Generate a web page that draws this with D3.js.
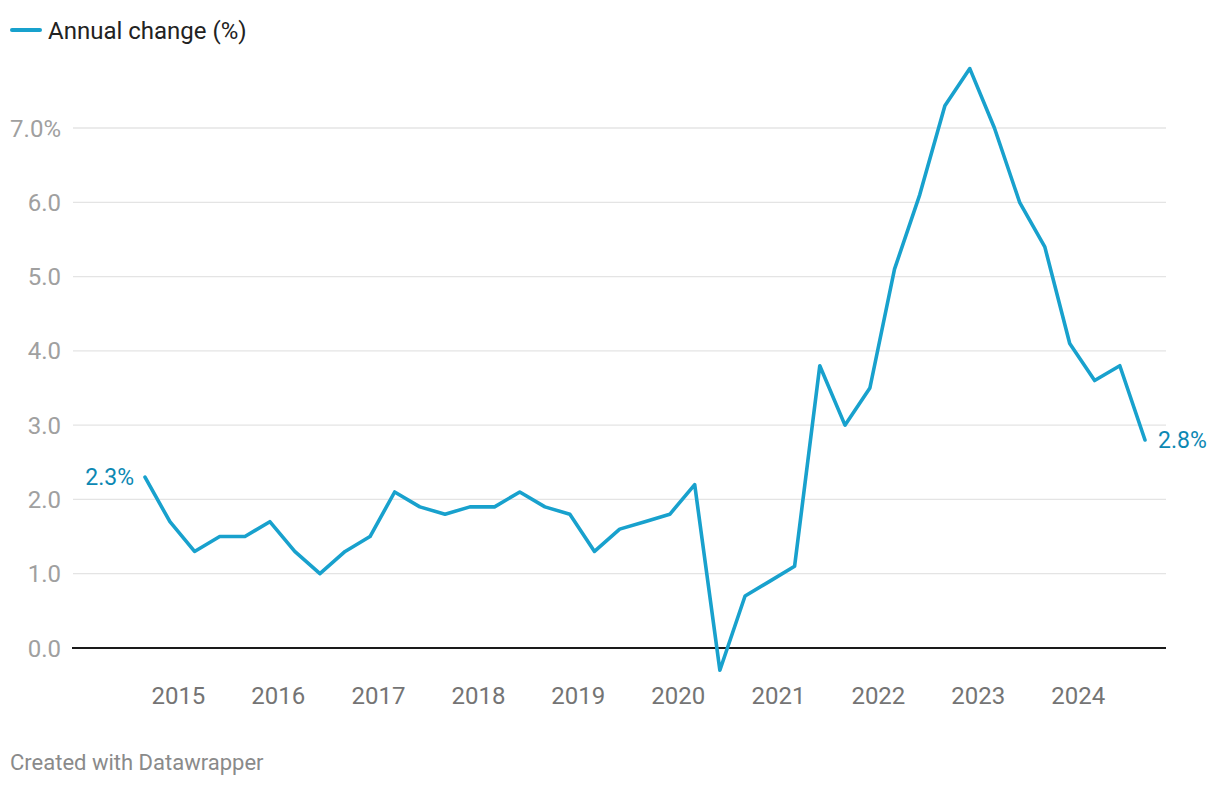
<!DOCTYPE html>
<html><head><meta charset="utf-8">
<script src="https://cdn.jsdelivr.net/npm/d3@7"></script>
<style>
body{margin:0;background:#fff;font-family:Roboto,"Noto Sans",sans-serif;}
</style></head>
<body><svg id="c" width="1220" height="786"></svg>
<script>
const quarters = ["2014 Q3","2014 Q4",
"2015 Q1","2015 Q2","2015 Q3","2015 Q4",
"2016 Q1","2016 Q2","2016 Q3","2016 Q4",
"2017 Q1","2017 Q2","2017 Q3","2017 Q4",
"2018 Q1","2018 Q2","2018 Q3","2018 Q4",
"2019 Q1","2019 Q2","2019 Q3","2019 Q4",
"2020 Q1","2020 Q2","2020 Q3","2020 Q4",
"2021 Q1","2021 Q2","2021 Q3","2021 Q4",
"2022 Q1","2022 Q2","2022 Q3","2022 Q4",
"2023 Q1","2023 Q2","2023 Q3","2023 Q4",
"2024 Q1","2024 Q2","2024 Q3"];
const annualChange = [2.3,1.7,
1.3,1.5,1.5,1.7,
1.3,1.0,1.3,1.5,
2.1,1.9,1.8,1.9,
1.9,2.1,1.9,1.8,
1.3,1.6,1.7,1.8,
2.2,-0.3,0.7,0.9,
1.1,3.8,3.0,3.5,
5.1,6.1,7.3,7.8,
7.0,6.0,5.4,4.1,
3.6,3.8,2.8];
const yTicks = [0,1,2,3,4,5,6,7];
const yearTicks = [2015,2016,2017,2018,2019,2020,2021,2022,2023,2024];
const seriesName = "Annual change (%)";

const lineColor = "#18a1cd", labelColor = "#0c88b3";
const svg = d3.select("#c");

function qDate(s){
  const [y,q] = s.split(" Q").map(Number);
  return new Date(y, (q-1)*3 + 2, 1);
}
const data = quarters.map((q,i)=>({date:qDate(q), v:annualChange[i]}));

const x = d3.scaleTime().domain([data[0].date, data[data.length-1].date]).range([145,1145]);
const y = d3.scaleLinear().domain([0,7]).range([648,128]);
const left = 73, right = 1166;

// gridlines
svg.append("g").selectAll("line").data(yTicks.filter(d=>d!==0)).join("line")
  .attr("x1",left).attr("x2",right).attr("y1",d=>y(d)).attr("y2",d=>y(d))
  .attr("stroke","#e4e4e4").attr("stroke-width",1.3);

// y labels
svg.append("g").selectAll("text").data(yTicks).join("text")
  .attr("x",61).attr("y",d=>y(d)).attr("dy","0.36em")
  .attr("text-anchor","end").attr("fill","#a0a0a0")
  .style("font-size","24px")
  .text(d=> d3.format(".1f")(d) + (d===7?"%":""));

// baseline
svg.append("line").attr("x1",72).attr("x2",right).attr("y1",y(0)).attr("y2",y(0))
  .attr("stroke","#1a1a1a").attr("stroke-width",2);

// x labels
svg.append("g").selectAll("text").data(yearTicks).join("text")
  .attr("x",d=>x(new Date(d,0,1))).attr("y",704)
  .attr("text-anchor","middle").attr("fill","#747474")
  .style("font-size","24px")
  .text(d=>d);

// line
svg.append("path").datum(data)
  .attr("fill","none").attr("stroke",lineColor).attr("stroke-width",3.6)
  .attr("stroke-linejoin","round").attr("stroke-linecap","round")
  .attr("d", d3.line().x(d=>x(d.date)).y(d=>y(d.v)));

// end labels
const first = data[0], last = data[data.length-1];
svg.append("text").attr("x",x(first.date)-11).attr("y",y(first.v)).attr("dy","0.36em")
  .attr("text-anchor","end").attr("fill",labelColor).style("font-size","23px")
  .text(first.v.toFixed(1)+"%");
svg.append("text").attr("x",x(last.date)+13).attr("y",y(last.v)).attr("dy","0.36em")
  .attr("text-anchor","start").attr("fill",labelColor).style("font-size","23px")
  .text(last.v.toFixed(1)+"%");

// legend
svg.append("line").attr("x1",12).attr("x2",40).attr("y1",30).attr("y2",30)
  .attr("stroke",lineColor).attr("stroke-width",4).attr("stroke-linecap","round");
svg.append("text").attr("x",48).attr("y",30).attr("dy","0.36em")
  .attr("fill","#222").style("font-size","24px").text(seriesName);

// footer
svg.append("text").attr("x",10).attr("y",770)
  .attr("fill","#8a8a8a").style("font-size","22px").text("Created with Datawrapper");
</script>
</body></html>
